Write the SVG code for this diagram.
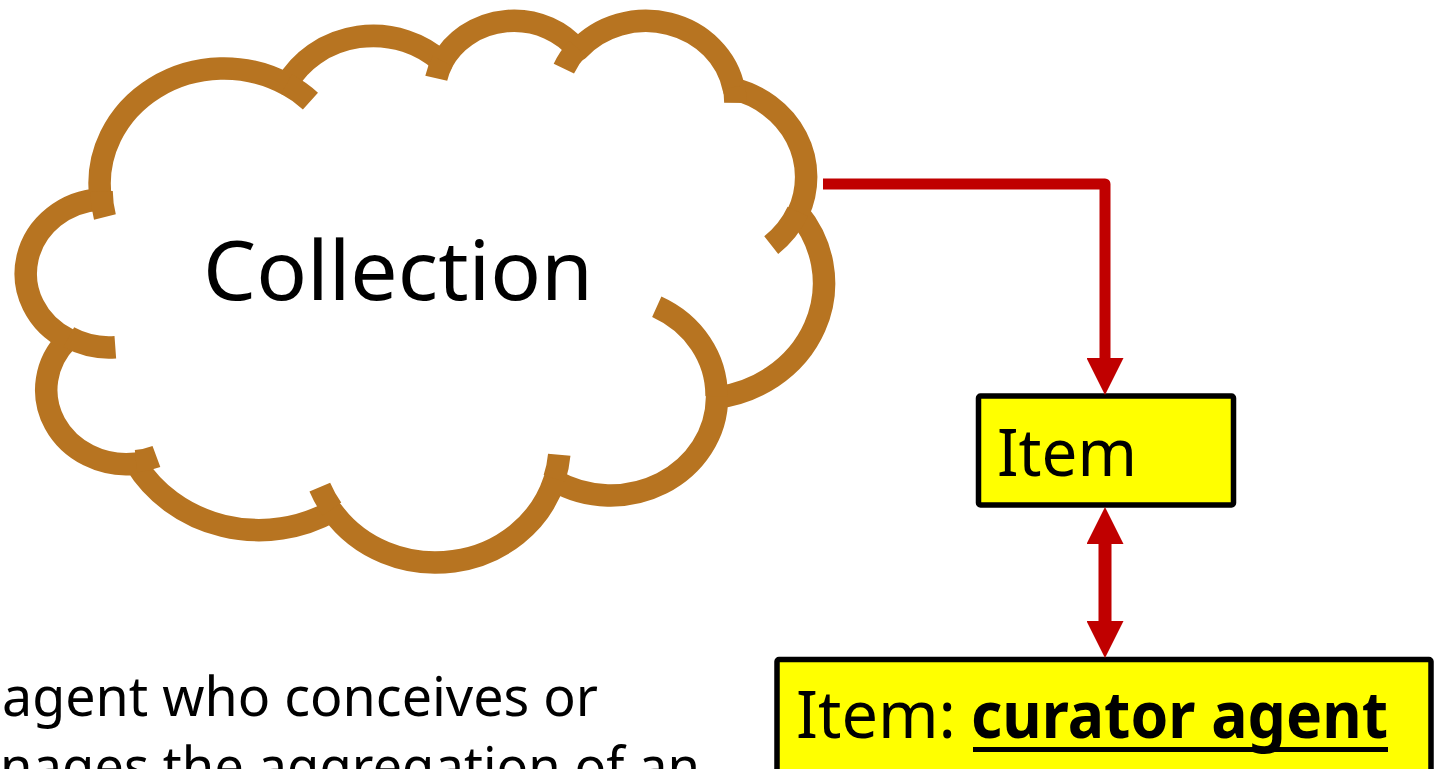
<svg xmlns="http://www.w3.org/2000/svg" width="1435" height="769" viewBox="0 0 1435 769">
<style>
.cloud{fill:#FFFFFF;stroke:#B77421;stroke-width:22.5;stroke-linejoin:round;stroke-linecap:butt}
.cloudin{fill:none;stroke:#B77421;stroke-width:22.5;stroke-linecap:butt}
.box{fill:#FFFF00;stroke:#000000;stroke-width:5.5}
.lbl{font-family:"Noto Sans","Open Sans",sans-serif;fill:#000000}
.conn{fill:none;stroke:#C00000;stroke-linejoin:round}
</style>
<defs>
<marker id="ah" viewBox="0 0 37 37" markerWidth="37" markerHeight="37" refX="7" refY="18.5" orient="auto-start-reverse" markerUnits="userSpaceOnUse">
<path d="M0,0 L37,18.5 L0,37 Z" fill="#C00000"/>
</marker>
</defs>
<rect width="1435" height="769" fill="#FFFFFF"/>
<g id="collection">
<path class="cloud" d="M 100.74 199.19 A 124.21 115.20 0 0 1 286.61 84.27 A 98.10 91.09 0 0 1 442.06 62.07 A 80.29 74.52 0 0 1 577.76 50.13 A 89.34 82.67 0 0 1 733.83 88.93 A 98.10 91.17 0 0 1 798.22 212.82 A 124.62 115.57 0 0 1 717.04 397.64 A 106.41 98.61 0 0 1 554.28 480.50 A 124.20 115.51 0 0 1 332.18 511.23 A 142.00 132.16 0 0 1 135.79 463.63 A 80.20 74.18 0 0 1 67.91 339.24 A 79.92 74.52 0 0 1 100.74 199.19 Z"/>
<path class="cloudin" d="M 115.32 347.19 A 79.92 74.52 0 0 1 68.74 337.20 M 156.43 456.52 A 80.20 74.18 0 0 1 136.04 461.30 M 332.10 509.05 A 124.20 115.51 0 0 1 319.80 487.21 M 559.25 454.66 A 124.20 115.51 0 0 1 554.34 478.60 M 656.77 306.79 A 106.41 98.61 0 0 1 716.58 396.24 M 797.83 211.52 A 98.10 91.17 0 0 1 771.22 245.05 M 733.93 87.08 A 89.34 82.67 0 0 1 735.34 102.91 M 563.86 68.60 A 89.34 82.67 0 0 1 577.51 48.39 M 436.26 78.23 A 80.29 74.52 0 0 1 442.70 61.13 M 286.52 84.14 A 124.21 115.20 0 0 1 310.44 101.05 M 104.91 216.98 A 124.21 115.20 0 0 1 101.54 191.13"/>
<text class="lbl" x="203" y="300" font-size="83" textLength="390" lengthAdjust="spacingAndGlyphs">Collection</text>
</g>
<g id="item">
<rect class="box" x="978.5" y="396" width="255" height="109" rx="2"/>
<text class="lbl" x="997" y="476" font-size="66" textLength="140" lengthAdjust="spacingAndGlyphs">Item</text>
</g>
<g id="item-curator">
<rect class="box" x="777" y="659.5" width="654" height="140" rx="2"/>
<text class="lbl" x="796" y="738" font-size="65" textLength="160" lengthAdjust="spacingAndGlyphs">Item:</text>
<text class="lbl" x="971" y="738" font-size="65" font-weight="700" textLength="417" lengthAdjust="spacingAndGlyphs">curator agent</text>
<line x1="973" y1="749.5" x2="1388" y2="749.5" stroke="#000000" stroke-width="5"/>
</g>
<g id="definition">
<text class="lbl" x="2" y="716" font-size="54" textLength="596" lengthAdjust="spacingAndGlyphs">agent who conceives or</text>
<text class="lbl" x="0" y="786" font-size="54" textLength="700" lengthAdjust="spacingAndGlyphs">nages the aggregation of an</text>
</g>
<g id="connectors">
<path class="conn" stroke-width="11" d="M 823 184 H 1105 V 365" marker-end="url(#ah)"/>
<path class="conn" stroke-width="13" d="M 1105 537 V 628" marker-start="url(#ah)" marker-end="url(#ah)"/>
</g>
</svg>
